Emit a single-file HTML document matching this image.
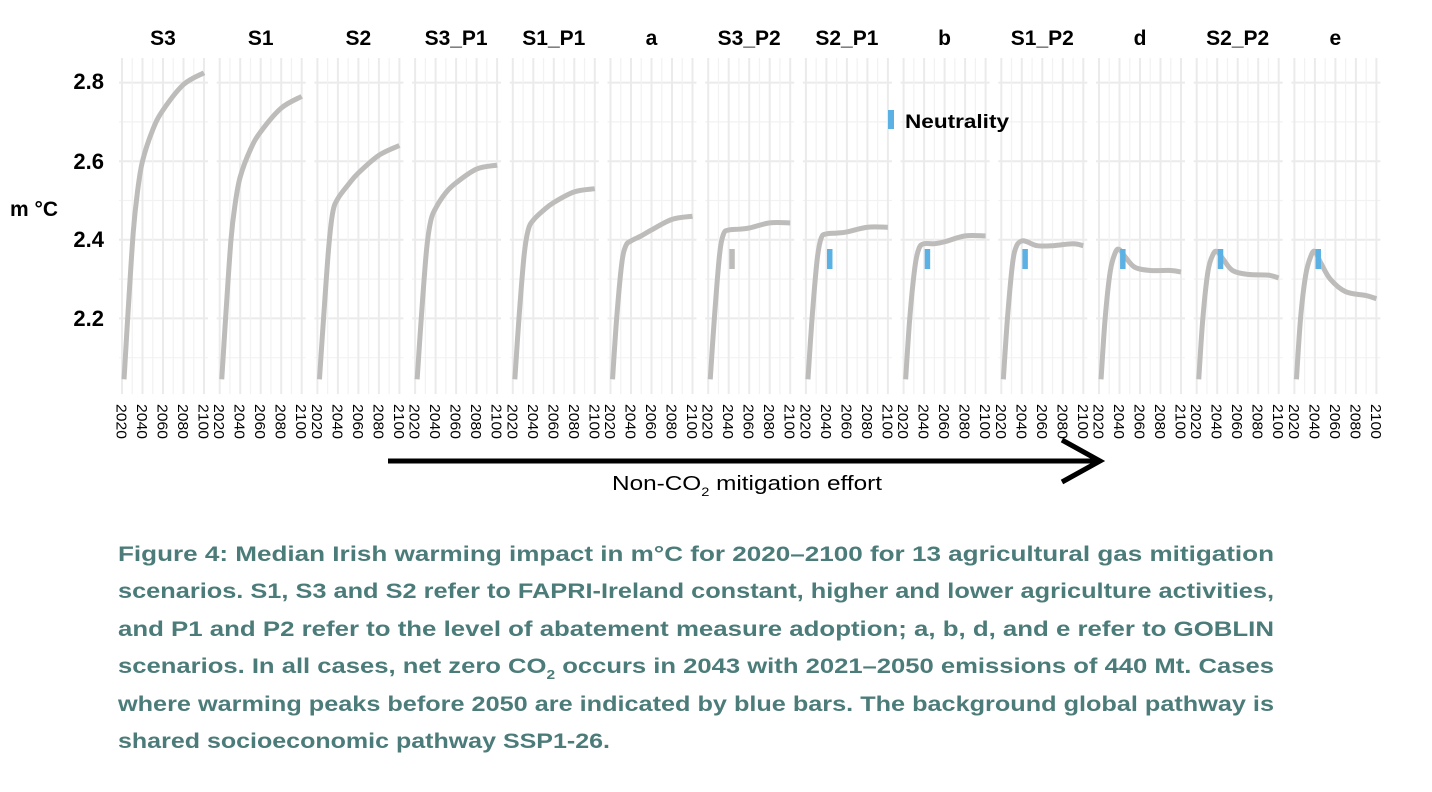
<!DOCTYPE html>
<html><head><meta charset="utf-8"><style>
html,body{margin:0;padding:0;background:#fff;}
svg{display:block;font-family:"Liberation Sans",sans-serif;}
</style></head><body>
<svg id="s" width="1432" height="792" viewBox="0 0 1432 792" xmlns="http://www.w3.org/2000/svg">
<g id="grid"></g><g id="curves"></g><g id="labels"></g>
<text x="10" y="216" font-size="21" font-weight="bold" textLength="48" lengthAdjust="spacingAndGlyphs">m °C</text>
<text x="104" y="89" font-size="22" font-weight="bold" text-anchor="end">2.8</text>
<text x="104" y="169" font-size="22" font-weight="bold" text-anchor="end">2.6</text>
<text x="104" y="247" font-size="22" font-weight="bold" text-anchor="end">2.4</text>
<text x="104" y="326" font-size="22" font-weight="bold" text-anchor="end">2.2</text>
<rect x="888" y="110" width="6" height="19" fill="#5bb1e4"/>
<text x="905" y="128" font-size="19" font-weight="bold" textLength="104" lengthAdjust="spacingAndGlyphs">Neutrality</text>
<line x1="388" y1="461" x2="1098" y2="461" stroke="#000" stroke-width="5"/>
<polyline points="1062,440 1100,461 1062,482" fill="none" stroke="#000" stroke-width="5"/>
<text x="612" y="490" font-size="20" textLength="270" lengthAdjust="spacingAndGlyphs">Non-CO<tspan font-size="12" dy="6">2</tspan><tspan dy="-6"> mitigation effort</tspan></text>
<g fill="#4b7c79" font-size="21.5" font-weight="bold">
<text x="118" y="561" textLength="1156" lengthAdjust="spacingAndGlyphs">Figure 4: Median Irish warming impact in m°C for 2020–2100 for 13 agricultural gas mitigation</text>
<text x="118" y="598" textLength="1156" lengthAdjust="spacingAndGlyphs">scenarios. S1, S3 and S2 refer to FAPRI-Ireland constant, higher and lower agriculture activities,</text>
<text x="118" y="636" textLength="1156" lengthAdjust="spacingAndGlyphs">and P1 and P2 refer to the level of abatement measure adoption; a, b, d, and e refer to GOBLIN</text>
<text x="118" y="673" textLength="1156" lengthAdjust="spacingAndGlyphs">scenarios. In all cases, net zero CO<tspan font-size="13" dy="6">2</tspan><tspan dy="-6"> occurs in 2043 with 2021–2050 emissions of 440 Mt. Cases</tspan></text>
<text x="118" y="711" textLength="1156" lengthAdjust="spacingAndGlyphs">where warming peaks before 2050 are indicated by blue bars. The background global pathway is</text>
<text x="118" y="748" textLength="492" lengthAdjust="spacingAndGlyphs">shared socioeconomic pathway SSP1-26.</text>
</g>
</svg>
<script>
var NS="http://www.w3.org/2000/svg";
var names=["S3","S1","S2","S3_P1","S1_P1","a","S3_P2","S2_P1","b","S1_P2","d","S2_P2","e"];
var data=[
[[2022,2.045],[2026,2.22],[2031,2.42],[2035,2.52],[2040,2.6],[2050,2.68],[2060,2.73],[2080,2.795],[2100,2.825]],
[[2022,2.045],[2026,2.21],[2031,2.4],[2035,2.49],[2040,2.56],[2050,2.63],[2060,2.675],[2080,2.735],[2100,2.765]],
[[2022,2.045],[2026,2.2],[2031,2.38],[2035,2.47],[2040,2.505],[2050,2.54],[2060,2.57],[2080,2.615],[2100,2.64]],
[[2022,2.045],[2026,2.2],[2031,2.37],[2035,2.445],[2040,2.48],[2050,2.52],[2060,2.545],[2080,2.58],[2100,2.59]],
[[2022,2.045],[2026,2.2],[2031,2.36],[2035,2.425],[2040,2.45],[2050,2.475],[2060,2.495],[2080,2.522],[2100,2.53]],
[[2022,2.045],[2026,2.2],[2031,2.34],[2035,2.385],[2040,2.397],[2050,2.41],[2060,2.425],[2080,2.452],[2100,2.46]],
[[2022,2.045],[2026,2.2],[2031,2.36],[2035,2.415],[2040,2.425],[2050,2.427],[2060,2.43],[2080,2.443],[2100,2.443]],
[[2022,2.045],[2026,2.2],[2031,2.35],[2035,2.405],[2040,2.415],[2050,2.417],[2060,2.42],[2080,2.432],[2100,2.432]],
[[2022,2.045],[2026,2.2],[2031,2.33],[2035,2.378],[2040,2.39],[2050,2.39],[2060,2.395],[2080,2.41],[2100,2.41]],
[[2022,2.045],[2026,2.2],[2031,2.34],[2035,2.385],[2040,2.397],[2045,2.395],[2055,2.385],[2070,2.385],[2090,2.39],[2100,2.385]],
[[2022,2.045],[2026,2.2],[2031,2.32],[2036,2.368],[2040,2.375],[2046,2.355],[2055,2.33],[2070,2.322],[2090,2.322],[2100,2.318]],
[[2022,2.045],[2026,2.2],[2031,2.32],[2036,2.363],[2040,2.37],[2046,2.35],[2055,2.322],[2070,2.312],[2090,2.31],[2100,2.303]],
[[2022,2.045],[2026,2.2],[2031,2.31],[2036,2.358],[2040,2.37],[2046,2.34],[2055,2.3],[2070,2.268],[2090,2.258],[2100,2.25]]
];
function el(t,a,p){var e=document.createElementNS(NS,t);for(var k in a)e.setAttribute(k,a[k]);p.appendChild(e);return e;}
var G=document.getElementById("grid"),C=document.getElementById("curves"),L=document.getElementById("labels");
function Y(v){return 397-(v-2.0)*393;}
for(var i=0;i<13;i++){
 var x0=122+i*97.7; function X(y){return x0+(y-2020)*82/80;}
 [2.1,2.3,2.5,2.7].forEach(function(v){el("line",{x1:x0-3,x2:x0+86,y1:Y(v),y2:Y(v),stroke:"#f2f2f2","stroke-width":1.2},G);});
 [2.2,2.4,2.6,2.8].forEach(function(v){el("line",{x1:x0-3,x2:x0+86,y1:Y(v),y2:Y(v),stroke:"#ebebeb","stroke-width":2},G);});
 for(var yr=2030;yr<2100;yr+=20)el("line",{x1:X(yr),x2:X(yr),y1:58,y2:394,stroke:"#f2f2f2","stroke-width":1.2},G);
 for(var yr=2020;yr<=2100;yr+=20){el("line",{x1:X(yr),x2:X(yr),y1:58,y2:394,stroke:"#ebebeb","stroke-width":2},G);
  var t=el("text",{x:0,y:0,"font-size":15,textLength:35,lengthAdjust:"spacingAndGlyphs",transform:"translate("+(X(yr)-5.5)+",404) rotate(90)"},L);t.textContent=yr;}
 var t=el("text",{x:x0+41,y:45,"font-size":21,"font-weight":"bold","text-anchor":"middle"},L);t.textContent=names[i];
 var p=data[i].map(function(q){return [X(q[0]),Y(q[1])];});
 var d="M"+p[0][0]+","+p[0][1];
 for(var k=0;k<p.length-1;k++){var a=p[k-1]||p[k],b=p[k],c=p[k+1],e=p[k+2]||c;
  d+=" C"+(b[0]+(c[0]-a[0])/6)+","+(b[1]+(c[1]-a[1])/6)+" "+(c[0]-(e[0]-b[0])/6)+","+(c[1]-(e[1]-b[1])/6)+" "+c[0]+","+c[1];}
 el("path",{d:d,fill:"none",stroke:"#bdbcbb","stroke-width":5,"stroke-linejoin":"round"},C);
 if(i>=6){el("rect",{x:X(2043)-2.5,y:249,width:5.5,height:20,fill:i==6?"#bdbcbb":"#5bb1e4"},C);}
}
</script>
</body></html>
